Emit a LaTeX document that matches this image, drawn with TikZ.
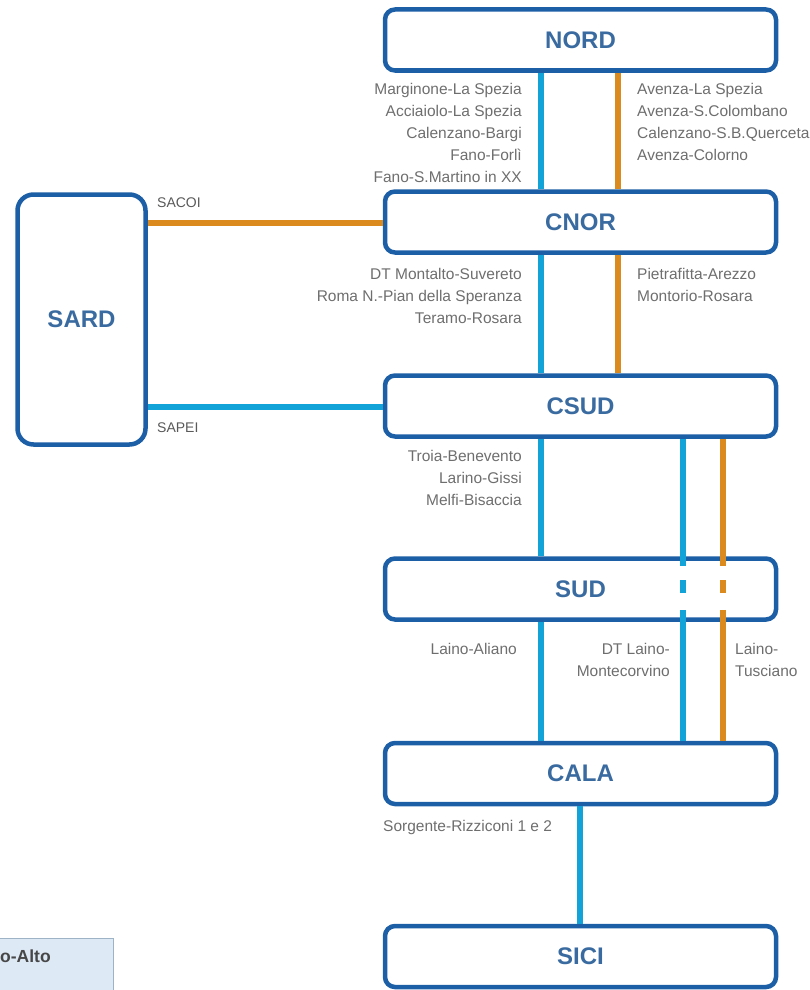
\documentclass[tikz,border=0pt]{standalone}
\usepackage{fontspec}
\setmainfont{Liberation Sans}
\usetikzlibrary{calc}
\definecolor{bordc}{HTML}{1D5FA6}
\definecolor{bluel}{HTML}{12A3D8}
\definecolor{orgl}{HTML}{DB8B1E}
\definecolor{boxtxt}{HTML}{3A6BA0}
\definecolor{lbl}{HTML}{6E6E6E}
\definecolor{legfill}{HTML}{DDEAF6}
\definecolor{legbord}{HTML}{9FB3C6}
\begin{document}
\begin{tikzpicture}[x=1pt,y=-1pt,
  zone/.style={draw=bordc, line width=4.5pt, rounded corners=10pt, fill=white, inner sep=0pt,
    minimum width=391pt, minimum height=61pt,
    font=\fontsize{24}{24}\selectfont\bfseries, text=boxtxt},
  wline/.style={line width=5.5pt, draw=bluel},
  oline/.style={line width=5.5pt, draw=orgl},
  lblL/.style={anchor=north east, align=right, inner sep=0pt, font=\fontsize{15.5}{22}\selectfont, text=lbl},
  lblR/.style={anchor=north west, align=left, inner sep=0pt, font=\fontsize{15.5}{22}\selectfont, text=lbl},
  cable/.style={anchor=west, inner sep=0pt, font=\fontsize{14}{14}\selectfont, text=black!65},
]
\useasboundingbox (0,0) rectangle (810,990);

% zones
\node[zone] (nord) at (580.5,40) {NORD};
\node[zone] (cnor) at (580.5,222) {CNOR};
\node[zone] (csud) at (580.5,406) {CSUD};
\node[zone] (sud)  at (580.5,589) {SUD};
\node[zone] (cala) at (580.5,773.5) {CALA};
\node[zone] (sici) at (580.5,956.5) {SICI};
\node[zone, rounded corners=16pt, minimum width=128pt, minimum height=250pt] (sard) at (81.5,319.5) {SARD};

% legend fragment
\node[draw=legbord, line width=1pt, fill=legfill, minimum width=118pt, minimum height=60pt, anchor=north west, inner sep=0pt] (leg) at (-5,938) {};
\node[anchor=west, inner sep=0pt, font=\fontsize{17.5}{17.5}\selectfont\bfseries, text=black!72] (legt) at (0,956) {o-Alto};

% coordinates of connector columns / rows
\coordinate (xb) at (541,0);
\coordinate (xo) at (618,0);
\coordinate (xb2) at (683,0);
\coordinate (xo2) at (723,0);
\coordinate (xs) at (580,0);
\coordinate (ysacoi) at (0,223);
\coordinate (ysapei) at (0,407);

% vertical connectors
\draw[wline] (nord.south -| xb) -- (cnor.north -| xb);
\draw[oline] (nord.south -| xo) -- (cnor.north -| xo);
\draw[wline] (cnor.south -| xb) -- (csud.north -| xb);
\draw[oline] (cnor.south -| xo) -- (csud.north -| xo);
\draw[wline] (csud.south -| xb) -- (sud.north -| xb);
\draw[wline] (sud.south -| xb) -- (cala.north -| xb);
\draw[wline] (cala.south -| xs) -- (sici.north -| xs);

% lines crossing SUD
\draw[wline] (csud.south -| xb2) -- ($(sud.north -| xb2)+(0,10)$);
\draw[wline] ($(sud.north -| xb2)+(0,24)$) -- ($(sud.north -| xb2)+(0,37)$);
\draw[wline] ($(sud.south -| xb2)+(0,-12)$) -- (cala.north -| xb2);
\draw[oline] (csud.south -| xo2) -- ($(sud.north -| xo2)+(0,10)$);
\draw[oline] ($(sud.north -| xo2)+(0,24)$) -- ($(sud.north -| xo2)+(0,37)$);
\draw[oline] ($(sud.south -| xo2)+(0,-12)$) -- (cala.north -| xo2);

% horizontal connectors to SARD
\draw[oline] (sard.east |- ysacoi) -- (cnor.west |- ysacoi);
\draw[wline] (sard.east |- ysapei) -- (csud.west |- ysapei);

% labels
\node[cable] (sacoi) at (157,203) {SACOI};
\node[cable] (sapei) at (157,428) {SAPEI};

\node[lblL] (l1) at (522,83) {Marginone-La Spezia\\Acciaiolo-La Spezia\\Calenzano-Bargi\\Fano-Forlì\\Fano-S.Martino in XX};
\node[lblR] (r1) at (637,83) {Avenza-La Spezia\\Avenza-S.Colombano\\Calenzano-S.B.Querceta\\Avenza-Colorno};
\node[lblL] (l2) at (522,268) {DT Montalto-Suvereto\\Roma N.-Pian della Speranza\\Teramo-Rosara};
\node[lblR] (r2) at (637,268) {Pietrafitta-Arezzo\\Montorio-Rosara};
\node[lblL] (l3) at (522,450) {Troia-Benevento\\Larino-Gissi\\Melfi-Bisaccia};
\node[lblL] (l4) at (517,643) {Laino-Aliano};
\node[lblL] (l5) at (670,643) {DT Laino-\\Montecorvino};
\node[lblR] (r5) at (735,643) {Laino-\\Tusciano};
\node[lblR] (l6) at (383,820) {Sorgente-Rizziconi 1 e 2};
\end{tikzpicture}
\end{document}
